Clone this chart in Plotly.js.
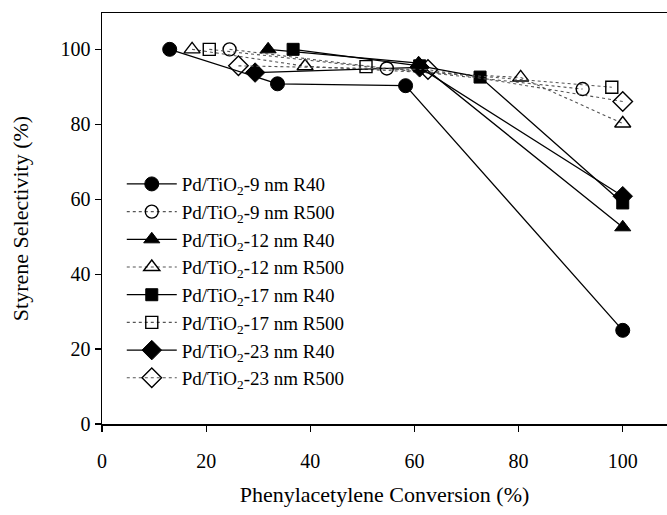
<!DOCTYPE html>
<html>
<head>
<meta charset="utf-8">
<script src="https://cdn.plot.ly/plotly-3.0.1.min.js"></script>
<style>html,body{margin:0;padding:0;background:#fff;}#chart{width:667px;height:515px;}</style>
</head>
<body>
<div id="chart"></div>
<script>
// Phenylacetylene conversion (%) and styrene selectivity (%) per catalyst
const names = [
  "Pd/TiO<sub>2</sub>-9 nm R40",
  "Pd/TiO<sub>2</sub>-9 nm R500",
  "Pd/TiO<sub>2</sub>-12 nm R40",
  "Pd/TiO<sub>2</sub>-12 nm R500",
  "Pd/TiO<sub>2</sub>-17 nm R40",
  "Pd/TiO<sub>2</sub>-17 nm R500",
  "Pd/TiO<sub>2</sub>-23 nm R40",
  "Pd/TiO<sub>2</sub>-23 nm R500"
];
const x9R40 = [13, 33.7, 58.3, 100];
const y9R40 = [100, 90.8, 90.3, 25];
const x9R500 = [24.5, 54.7, 92.3];
const y9R500 = [100, 94.9, 89.4];
const x12R40 = [31.9, 60.8, 100];
const y12R40 = [100, 96.3, 52.5];
const x12R500 = [17.3, 39, 80.4, 100];
const y12R500 = [100, 95.5, 92.5, 80.2];
const x17R40 = [36.7, 61, 72.6, 100];
const y17R40 = [100, 95.6, 92.6, 59];
const x17R500 = [20.6, 50.7, 97.9];
const y17R500 = [100, 95.4, 89.9];
const x23R40 = [29.4, 61, 100];
const y23R40 = [93.8, 95.2, 60.8];
const x23R500 = [26.2, 62.6, 100];
const y23R500 = [95.6, 94.6, 86.1];
const tickValues = [0, 20, 40, 60, 80, 100];

const xs = [x9R40, x9R500, x12R40, x12R500, x17R40, x17R500, x23R40, x23R500];
const ys = [y9R40, y9R500, y12R40, y12R500, y17R40, y17R500, y23R40, y23R500];
const symbols = ["circle", "circle-open", "triangle-up", "triangle-up-open", "square", "square-open", "diamond", "diamond-open"];
const sizes = [14, 13, 14, 14, 12, 12, 15, 15];

const traces = names.map((n, i) => {
  const solid = i % 2 === 0;
  return {
    type: "scatter",
    mode: "lines+markers",
    name: n,
    legendgroup: "g" + i,
    x: xs[i],
    y: ys[i],
    line: solid ? {color: "#000", width: 1.3} : {color: "#555", width: 1.1, dash: "dot"},
    marker: {
      symbol: symbols[i],
      size: sizes[i],
      color: "#000",
      line: {color: "#000", width: solid ? 1 : 1.4}
    }
  };
});

const layout = {
  width: 667,
  height: 515,
  margin: {l: 102, r: 0, t: 13, b: 91},
  showlegend: true,
  legend: {
    x: 0.035, y: 0.63, xanchor: "left", yanchor: "top",
    bgcolor: "rgba(0,0,0,0)",
    font: {family: "Liberation Serif", size: 19, color: "#000"},
    itemwidth: 50,
    tracegroupgap: 0
  },
  xaxis: {
    range: [0, 108.5],
    tickvals: tickValues,
    ticks: "outside", ticklen: 6, tickwidth: 1.2, tickcolor: "#000",
    ticklabelstandoff: 12,
    showline: true, linecolor: "#000", linewidth: 1.5, mirror: true,
    showgrid: false, zeroline: false,
    tickfont: {family: "Liberation Serif", size: 20, color: "#000"},
    title: {text: "Phenylacetylene Conversion (%)", font: {family: "Liberation Serif", size: 22, color: "#000"}, standoff: 16}
  },
  yaxis: {
    range: [0, 109.7],
    tickvals: tickValues,
    ticks: "outside", ticklen: 6, tickwidth: 1.2, tickcolor: "#000",
    showline: true, linecolor: "#000", linewidth: 1.5,
    showgrid: false, zeroline: false,
    tickfont: {family: "Liberation Serif", size: 20, color: "#000"},
    title: {text: "Styrene Selectivity (%)", font: {family: "Liberation Serif", size: 22, color: "#000"}, standoff: 26}
  }
};

Plotly.newPlot("chart", traces, layout, {staticPlot: true});
</script>
</body>
</html>
